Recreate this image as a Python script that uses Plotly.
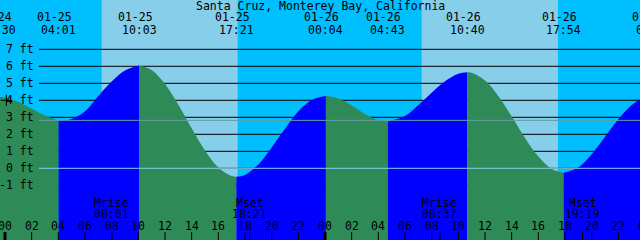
import plotly.graph_objects as go

# ---------------- data ----------------
title_text = "Santa Cruz, Monterey Bay, California"

# hours since 01-25 00:00, tide height in ft
tide_hours = [-0.5, 0, 1, 2, 3, 4.017, 5, 6, 7, 8, 9, 10.05, 11, 12, 13, 14, 15, 16, 17,
              17.35, 18, 19, 20, 21, 22, 23, 24.067, 25, 26, 27, 28, 28.717, 30, 31, 32,
              33, 34, 34.667, 35, 36, 37, 38, 39, 40, 41, 41.9, 43, 44, 45, 46, 47, 48, 48.6]
tide_ft = [4.2, 4.17, 3.9, 3.5, 3.1, 2.8, 2.9, 3.35, 4.25, 5.1, 5.75, 6.05, 5.78, 4.96, 3.74,
           2.35, 1.04, 0.04, -0.46, -0.5, -0.39, 0.22, 1.22, 2.32, 3.35, 4.02, 4.25, 4.11,
           3.7, 3.2, 2.84, 2.75, 3.07, 3.72, 4.45, 5.12, 5.56, 5.65, 5.62, 5.17, 4.26, 3.06,
           1.78, 0.69, -0.04, -0.26, 0.04, 0.82, 1.85, 2.88, 3.72, 4.2, 4.3]

extreme_hours = [-0.5, 4.017, 10.05, 17.35, 24.067, 28.717, 34.667, 41.9, 48.6]
extreme_dates = ["01-24", "01-25", "01-25", "01-25", "01-26", "01-26", "01-26", "01-26", "01-27"]
extreme_times = ["23:30", "04:01", "10:03", "17:21", "00:04", "04:43", "10:40", "17:54", "00:36"]

sun_rise_hours = [7.25, 31.25]
sun_set_hours = [17.45, 41.47]

moon_hours = [8.017, 18.35, 32.617, 43.317]
moon_kinds = ["Mrise", "Mset", "Mrise", "Mset"]
moon_times = ["08:01", "18:21", "08:37", "19:19"]

hour_ticks = list(range(0, 50, 2))
hour_tick_text = ["00", "02", "04", "06", "08", "10", "12", "14", "16", "18", "20", "22",
                  "00", "02", "04", "06", "08", "10", "12", "14", "16", "18", "20", "22", "00"]
midnight_hours = [0, 24, 48]

ft_levels = [-1, 0, 1, 2, 3, 4, 5, 6, 7]
ft_labels = ["-1 ft", "0 ft", "1 ft", "2 ft", "3 ft", "4 ft", "5 ft", "6 ft", "7 ft"]
datum_ft = 0
mean_ft = 2.82

now_hour = [0.1]
now_ft = [4.0]

# ---------------- style ----------------
W, H = 640, 240
NIGHT = "#00BFFF"
DAY = "#87CEEB"
FALL = "#2E8B57"
RISE = "#0000FF"
FONT = "DejaVu Sans Mono"
FS = 11.5
XR = [-0.375, 47.625]
YR = [-4.218, 9.9]


def py(px):
    return 1 - px / H


def xp(h):
    # map hours to paper fraction through the x-axis range (so edge labels can be partly cut)
    return (h - XR[0]) / (XR[1] - XR[0])


fig = go.Figure()

# tide fill segments
for k in range(len(extreme_hours) - 1):
    a, b = extreme_hours[k], extreme_hours[k + 1]
    xs = [h for h in tide_hours if a <= h <= b]
    ys = [v for h, v in zip(tide_hours, tide_ft) if a <= h <= b]
    col = FALL if ys[0] > ys[-1] else RISE
    fig.add_trace(go.Scatter(x=[a, b], y=[YR[0] - 1, YR[0] - 1], mode="lines",
                             line=dict(width=0), hoverinfo="skip", showlegend=False))
    fig.add_trace(go.Scatter(x=xs, y=ys, mode="lines", line=dict(width=0, shape="spline", color=col),
                             fill="tonexty", fillcolor=col, hoverinfo="skip", showlegend=False))

# now marker
fig.add_trace(go.Scatter(x=now_hour, y=now_ft, mode="markers",
                         marker=dict(symbol="cross-thin", size=8, line=dict(width=1, color="black")),
                         hoverinfo="skip", showlegend=False))

shapes = []
# day backgrounds
for r, s in zip(sun_rise_hours, sun_set_hours):
    shapes.append(dict(type="rect", xref="x", yref="paper", x0=r, x1=s, y0=0, y1=1,
                       fillcolor=DAY, line=dict(width=0), layer="below"))
# black level lines (under tide)
for lv in ft_levels:
    shapes.append(dict(type="line", xref="paper", yref="y", x0=39 / W, x1=1, y0=lv, y1=lv,
                       line=dict(color="black", width=1), layer="below"))
# mean & datum lines on top
shapes.append(dict(type="line", xref="paper", yref="y", x0=39 / W, x1=1, y0=mean_ft, y1=mean_ft,
                   line=dict(color="#5F9EA0", width=1), layer="above"))
shapes.append(dict(type="line", xref="paper", yref="y", x0=39 / W, x1=1, y0=datum_ft, y1=datum_ft,
                   line=dict(color=DAY, width=1), layer="above"))
# hour ticks
for h in hour_ticks:
    shapes.append(dict(type="line", xref="x", yref="paper", x0=h, x1=h, y0=0, y1=8 / H,
                       line=dict(color="black", width=1), layer="above"))
for h in midnight_hours:
    shapes.append(dict(type="line", xref="x", yref="paper", x0=h, x1=h, y0=0, y1=8 / H,
                       line=dict(color="black", width=3), layer="above"))
for h in moon_hours:
    shapes.append(dict(type="line", xref="x", yref="paper", x0=h, x1=h, y0=0, y1=8 / H,
                       line=dict(color="black", width=1), layer="above"))

ann = []
tf = dict(family=FONT, size=FS, color="black")
ann.append(dict(text=title_text, xref="paper", yref="paper", x=0.5, y=py(6), xanchor="center",
                yanchor="middle", showarrow=False, font=tf))
for h, d, t in zip(extreme_hours, extreme_dates, extreme_times):
    ann.append(dict(text=d, xref="paper", yref="paper", x=xp(h), y=py(17.5), xshift=-4,
                    xanchor="center", yanchor="middle", showarrow=False, font=tf))
    ann.append(dict(text=t, xref="paper", yref="paper", x=xp(h), y=py(29.5), xanchor="center",
                    yanchor="middle", showarrow=False, font=tf))
for lv, lb in zip(ft_levels, ft_labels):
    ann.append(dict(text=lb, xref="paper", yref="y", x=36 / W, y=lv, xanchor="right",
                    yanchor="middle", showarrow=False, font=tf))
for h, tx in zip(hour_ticks, hour_tick_text):
    ann.append(dict(text=tx, xref="paper", yref="paper", x=xp(h), y=py(226), xanchor="center",
                    yanchor="middle", showarrow=False, font=tf))
for h, kd, t in zip(moon_hours, moon_kinds, moon_times):
    ann.append(dict(text=kd, xref="paper", yref="paper", x=xp(h), y=py(202.5), xanchor="center",
                    yanchor="middle", showarrow=False, font=tf))
    ann.append(dict(text=t, xref="paper", yref="paper", x=xp(h), y=py(213.8), xanchor="center",
                    yanchor="middle", showarrow=False, font=tf))

fig.update_layout(
    width=W, height=H, margin=dict(l=0, r=0, t=0, b=0),
    paper_bgcolor=NIGHT, plot_bgcolor=NIGHT,
    xaxis=dict(range=XR, visible=False, fixedrange=True),
    yaxis=dict(range=YR, visible=False, fixedrange=True),
    shapes=shapes, annotations=ann, showlegend=False,
)

fig.write_html("out.html")
